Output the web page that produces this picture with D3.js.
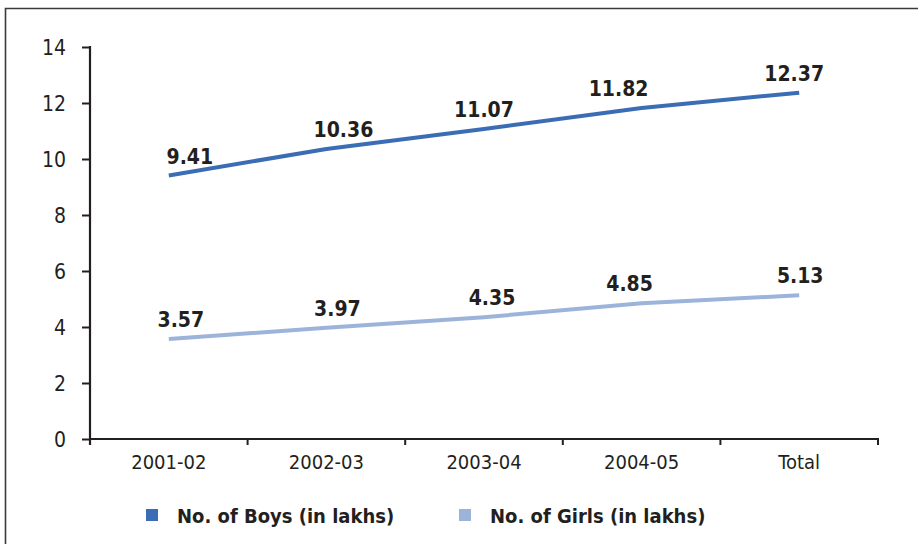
<!DOCTYPE html>
<html>
<head>
<meta charset="utf-8">
<script src="https://cdn.jsdelivr.net/npm/d3@7"></script>
<style>
  body { margin: 0; background: #fff; }
  svg { display: block; }
  .tick text { font-family: "DejaVu Sans Condensed", "DejaVu Sans", sans-serif; fill: #231f20; }
  .lbl { font-family: "DejaVu Sans Condensed", "DejaVu Sans", sans-serif; font-weight: bold; fill: #231f20; }
</style>
</head>
<body>
<svg id="chart" width="918" height="544"></svg>
<script>
// data
const categories = ['2001-02', '2002-03', '2003-04', '2004-05', 'Total'];
const boys = [9.41, 10.36, 11.07, 11.82, 12.37];
const girls = [3.57, 3.97, 4.35, 4.85, 5.13];
const yTicks = [0, 2, 4, 6, 8, 10, 12, 14];
const seriesNames = ['No. of Boys (in lakhs)', 'No. of Girls (in lakhs)'];

// label nudges, as placed in the original
const boysDx = [21, 17, 0, -23, -5];
const girlsDx = [12, 11, 8, -12, 1];

const colors = ['#3b6db5', '#9cb4da'];
const ink = '#231f20';

const svg = d3.select('#chart');

// frame
svg.append('path')
  .attr('d', 'M5.5,544 L5.5,8.5 L918,8.5')
  .attr('fill', 'none')
  .attr('stroke', '#3a3a3a')
  .attr('stroke-width', 1.6);

const x = d3.scaleBand().domain(categories).range([90, 878]).padding(0);
const y = d3.scaleLinear().domain([0, 14]).range([439, 47]);
const cx = c => x(c) + x.bandwidth() / 2;

// y axis
const gY = svg.append('g')
  .attr('transform', 'translate(90,0)')
  .call(d3.axisLeft(y).tickValues(yTicks).tickSize(8).tickPadding(16).tickFormat(d3.format('d')));
gY.select('.domain').remove();
gY.selectAll('.tick line').attr('stroke', ink).attr('stroke-width', 2);
gY.selectAll('.tick text').attr('font-size', 21).attr('dy', '0.36em');
svg.append('line')
  .attr('x1', 90).attr('x2', 90)
  .attr('y1', y(14) - 1).attr('y2', y(0) + 6)
  .attr('stroke', ink).attr('stroke-width', 2.2);

// x axis
const gX = svg.append('g')
  .attr('transform', `translate(0,${y(0)})`)
  .call(d3.axisBottom(x).tickSize(0).tickPadding(16));
gX.select('.domain').remove();
gX.selectAll('.tick text').attr('font-size', 20);
svg.append('line')
  .attr('x1', 89).attr('x2', x.range()[1] + 1)
  .attr('y1', y(0)).attr('y2', y(0))
  .attr('stroke', ink).attr('stroke-width', 2.2);
svg.append('g').selectAll('line')
  .data(categories.map(c => x(c)).concat([x.range()[1]]))
  .enter().append('line')
  .attr('x1', d => d).attr('x2', d => d)
  .attr('y1', y(0)).attr('y2', y(0) + 6)
  .attr('stroke', ink).attr('stroke-width', 2);

// lines
const line = d3.line()
  .x((d, i) => cx(categories[i]))
  .y(d => y(d));

[boys, girls].forEach((s, k) => {
  svg.append('path')
    .datum(s)
    .attr('fill', 'none')
    .attr('stroke', colors[k])
    .attr('stroke-width', 4)
    .attr('stroke-linejoin', 'round')
    .attr('d', line);
});

// value labels
[[boys, boysDx], [girls, girlsDx]].forEach(([s, dx]) => {
  svg.append('g').selectAll('text')
    .data(s)
    .enter().append('text')
    .attr('class', 'lbl')
    .attr('font-size', 21)
    .attr('text-anchor', 'middle')
    .attr('x', (d, i) => cx(categories[i]) + dx[i])
    .attr('y', d => y(d) - 12)
    .text(d => d.toFixed(2));
});

// legend
const legendX = [146, 459];
seriesNames.forEach((name, k) => {
  svg.append('rect')
    .attr('x', legendX[k]).attr('y', 509)
    .attr('width', 12).attr('height', 12)
    .attr('fill', colors[k]);
  svg.append('text')
    .attr('class', 'lbl')
    .attr('font-size', 20)
    .attr('x', legendX[k] + 31)
    .attr('y', 523)
    .text(name);
});
</script>
</body>
</html>
